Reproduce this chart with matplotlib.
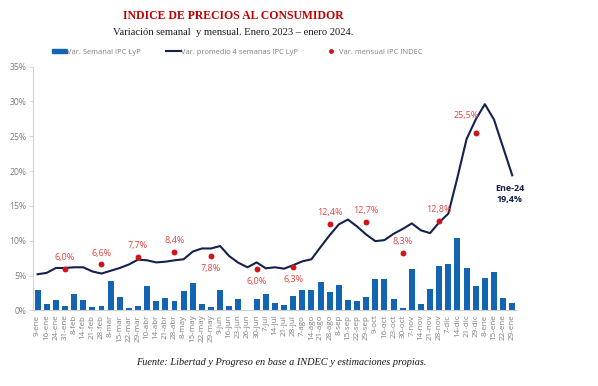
import matplotlib
matplotlib.use('Agg')
import matplotlib.pyplot as plt
from matplotlib.lines import Line2D
from matplotlib.patches import Patch

plt.rcParams['font.family'] = ['Open Sans', 'DejaVu Sans']

weeks = ['9-ene', '16-ene', '24-ene', '31-ene', '8-feb', '14-feb', '21-feb', '28-feb',
         '8-mar', '15-mar', '22-mar', '29-mar', '10-abr', '14-abr', '21-abr', '28-abr',
         '8-may', '15-may', '22-may', '29-may', '9-jun', '16-jun', '23-jun', '26-jun',
         '30-jun', '7-jul', '14-jul', '21-jul', '28-jul', '7-ago', '14-ago', '21-ago',
         '28-ago', '8-sep', '15-sep', '22-sep', '29-sep', '9-oct', '16-oct', '23-oct',
         '30-oct', '7-nov', '14-nov', '21-nov', '28-nov', '7-dic', '14-dic', '21-dic',
         '29-dic', '8-ene', '15-ene', '22-ene', '29-ene']

weekly = [2.9, 0.95, 1.5, 0.6, 2.3, 1.5, 0.5, 0.6,
          4.2, 2.0, 0.35, 0.7, 3.5, 1.3, 1.8, 1.4,
          2.8, 4.0, 0.9, 0.55, 2.9, 0.6, 1.7, 0.1,
          1.6, 2.4, 1.1, 0.8, 2.1, 3.0, 3.0, 4.05,
          2.6, 3.6, 1.5, 1.3, 1.9, 4.5, 4.5, 1.6,
          0.35, 5.95, 0.95, 3.05, 6.35, 6.6, 10.4, 6.15,
          3.5, 4.7, 5.5, 1.8, 1.1]

avg4 = [5.2, 5.4, 6.1, 6.1, 6.2, 6.2, 5.6, 5.3,
        5.7, 6.1, 6.6, 7.3, 7.2, 6.9, 7.0, 7.2,
        7.35, 8.45, 8.9, 8.9, 9.25, 7.8, 6.85, 6.2,
        6.9, 6.05, 6.2, 6.0, 6.5, 7.05, 7.35, 9.1,
        10.8, 12.35, 13.05, 12.05, 10.9, 9.95, 10.1, 11.0,
        11.7, 12.5, 11.5, 11.1, 12.65, 13.9, 19.1, 24.6,
        27.4, 29.6, 27.4, 23.4, 19.4]

monthly_idx = [3, 7, 11, 15, 19, 24, 28, 32, 36, 40, 44, 48]
monthly = [6.0, 6.6, 7.7, 8.4, 7.8, 6.0, 6.3, 12.4, 12.7, 8.3, 12.8, 25.5]
monthly_below = [False, False, False, False, True, True, True, False, False, False, False, False]

bar_color = '#1464b4'
line_color = '#14214e'
dot_color = '#d0141a'
label_red = '#e4443f'
gray = '#7f7f7f'

fig = plt.figure(figsize=(5.98, 3.86), dpi=100)
ax = fig.add_axes([0.0552, 0.1956, 0.809, 0.632])

x = list(range(len(weeks)))
ax.bar(x, weekly, width=0.65, color=bar_color, zorder=2)
ax.plot(x, avg4, color=line_color, lw=1.5, zorder=3)
ax.scatter(monthly_idx, monthly, s=18, color=dot_color, zorder=4, linewidths=0)

for i, v, below in zip(monthly_idx, monthly, monthly_below):
    txt = f'{v:.1f}%'.replace('.', ',')
    if i == 48:
        ax.annotate(txt, (i, v), xytext=(-7, 9), textcoords='offset points',
                    ha='center', va='bottom', fontsize=6.5, color=label_red)
    elif below:
        ax.annotate(txt, (i, v), xytext=(0, -6), textcoords='offset points',
                    ha='center', va='top', fontsize=6.5, color=label_red)
    else:
        ax.annotate(txt, (i, v), xytext=(0, 5), textcoords='offset points',
                    ha='center', va='bottom', fontsize=6.5, color=label_red)

ax.annotate('Ene-24\n19,4%', (x[-1], avg4[-1]), xytext=(-2, -6), textcoords='offset points',
            ha='center', va='top', fontsize=6.5, color=line_color, fontweight='bold',
            linespacing=1.3)

ax.set_xlim(-0.5, len(weeks) - 0.5)
ax.set_ylim(0, 35)
ax.set_yticks(range(0, 36, 5))
ax.set_yticklabels([f'{t}%' for t in range(0, 36, 5)])
ax.set_xticks(x)
ax.set_xticklabels(weeks, rotation=90)
ax.tick_params(axis='y', labelsize=6.2, colors=gray, length=3, width=0.6, color='#d0d0d0', pad=2)
ax.tick_params(axis='x', labelsize=5.8, colors=gray, length=0, pad=3)
for s in ['top', 'right']:
    ax.spines[s].set_visible(False)
ax.spines['left'].set_color('#d0d0d0')
ax.spines['bottom'].set_color('#d0d0d0')
ax.spines['left'].set_linewidth(0.8)
ax.spines['bottom'].set_linewidth(0.8)

handles = [Patch(color=bar_color),
           Line2D([0], [0], color=line_color, lw=1.5),
           Line2D([0], [0], marker='o', color='none', markerfacecolor=dot_color,
                  markeredgecolor='none', markersize=3.5)]
labels = ['Var. Semanal IPC LyP', 'Var. promedio 4 semanas IPC LyP', 'Var. mensual IPC INDEC']
fig.legend(handles, labels, loc='center', bbox_to_anchor=(0.397, 0.865), ncol=3, frameon=False,
           fontsize=5.4, labelcolor=gray, handlelength=1.9, handletextpad=0.1,
           columnspacing=3.4, handleheight=0.6)

fig.text(0.39, 0.958, 'INDICE DE PRECIOS AL CONSUMIDOR', ha='center', va='center',
         family='Liberation Serif', fontsize=8.5, fontweight='bold', color='#c00000')
fig.text(0.39, 0.915, 'Variación semanal  y mensual. Enero 2023 – enero 2024.', ha='center',
         va='center', family='Liberation Serif', fontsize=7.6, color='#1a1a1a')
fig.text(0.47, 0.062, 'Fuente: Libertad y Progreso en base a INDEC y estimaciones propias.',
         ha='center', va='center', family='Liberation Serif', fontsize=7.4, style='italic',
         color='#1a1a1a')

plt.savefig('out.png', dpi=100)
